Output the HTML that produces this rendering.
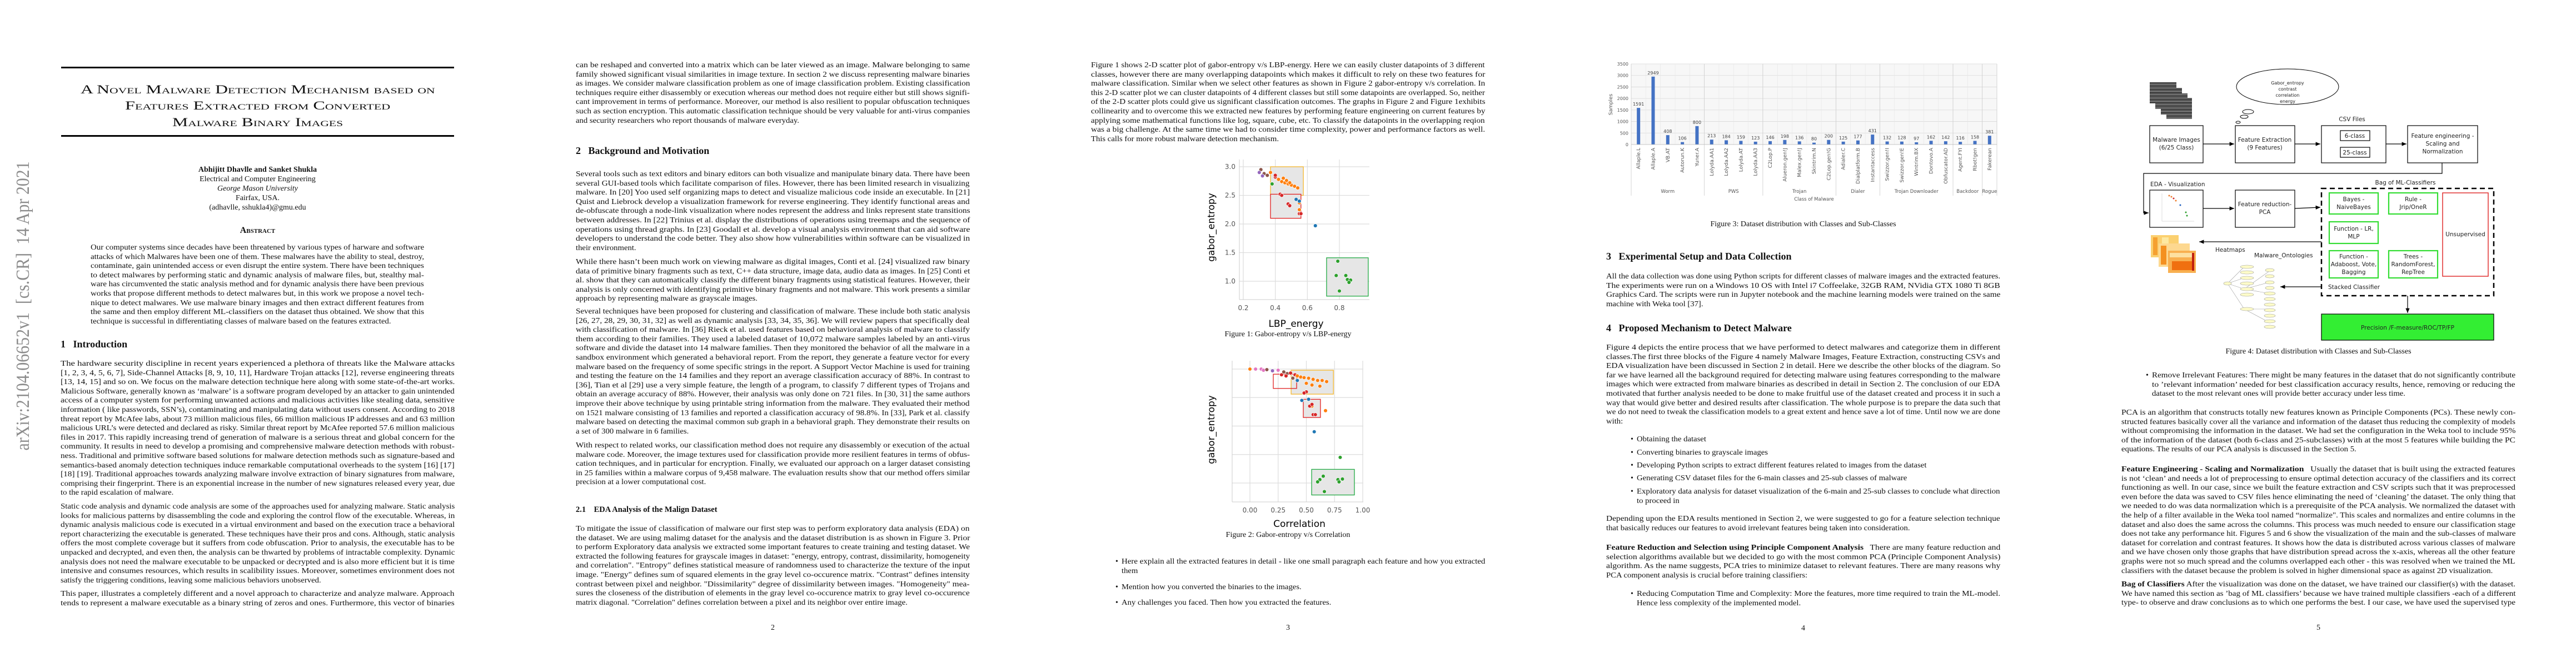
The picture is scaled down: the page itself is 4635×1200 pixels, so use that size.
<!DOCTYPE html>
<html><head><meta charset="utf-8">
<style>
html,body{margin:0;padding:0;background:#fff;}
body{width:4635px;height:1200px;position:relative;overflow:hidden;font-family:"Liberation Serif",serif;color:#111;}
.page{position:absolute;top:0;width:927px;height:1200px;background:#fff;}
.para{position:absolute;font-size:14px;line-height:16.6px;}
.para div{white-space:nowrap;overflow:visible;height:16.6px;}
.j,.e{white-space:nowrap;}
.abs{position:absolute;white-space:nowrap;}
.h1{position:absolute;font-weight:bold;font-size:18px;white-space:nowrap;}
.pn{position:absolute;font-size:14px;width:927px;text-align:center;left:0;}
.bul{position:absolute;font-size:14px;}
svg text{font-family:"DejaVu Sans","Liberation Sans",sans-serif;}
</style></head><body>

<!-- PAGE 1 -->
<div class="page" style="left:0">
  <div class="abs j" style="left:-218px;top:569px;width:520px;font-size:34px;line-height:34px;color:#8c8c8c;transform:rotate(-90deg);text-align:center;">arXiv:2104.06652v1&nbsp;&nbsp;[cs.CR]&nbsp;&nbsp;14 Apr 2021</div>
  <div class="abs" style="left:110px;top:120px;width:707px;height:3px;background:#000"></div>
  <div class="abs" style="left:110px;top:243px;width:707px;height:3px;background:#000"></div>
  <div>
    <div class="abs j" style="left:145px;top:148px;width:637px;font-size:22px;font-variant:small-caps;line-height:26px">A Novel Malware Detection Mechanism based on</div>
    <div class="abs j" style="left:225px;top:177px;width:477px;font-size:22px;font-variant:small-caps;line-height:26px">Features Extracted from Converted</div>
    <div class="abs j" style="left:310px;top:207px;width:307px;font-size:22px;font-variant:small-caps;line-height:26px">Malware Binary Images</div>
  </div>
  <div style="position:absolute;left:0;width:927px;top:297px;text-align:center;font-size:14px;line-height:17px">
    <div style="font-weight:bold">Abhijitt Dhavlle and Sanket Shukla</div>
    <div>Electrical and Computer Engineering</div>
    <div style="font-style:italic">George Mason University</div>
    <div>Fairfax, USA.</div>
    <div>(adhavlle, sshukla4)@gmu.edu</div>
  </div>
  <div class="abs" style="left:0;width:927px;text-align:center;top:406px;font-size:16px;font-weight:bold;font-variant:small-caps">Abstract</div>
  <div class="para" style="left:163px;top:438px;width:600px">
    <div class="j">Our computer systems since decades have been threatened by various types of harware and software</div>
    <div class="j">attacks of which Malwares have been one of them. These malwares have the ability to steal, destroy,</div>
    <div class="j">contaminate, gain unintended access or even disrupt the entire system. There have been techniques</div>
    <div class="j">to detect malwares by performing static and dynamic analysis of malware files, but, stealthy mal-</div>
    <div class="j">ware has circumvented the static analysis method and for dynamic analysis there have been previous</div>
    <div class="j">works that propose different methods to detect malwares but, in this work we propose a novel tech-</div>
    <div class="j">nique to detect malwares. We use malware binary images and then extract different features from</div>
    <div class="j">the same and then employ different ML-classifiers on the dataset thus obtained. We show that this</div>
    <div class="e">technique is successful in differentiating classes of malware based on the features extracted.</div>
  </div>
  <div class="h1" style="left:109px;top:609px">1&nbsp;&nbsp;&nbsp;Introduction</div>
  <div class="para" style="left:109px;top:647px;width:709px">
    <div class="j">The hardware security discipline in recent years experienced a plethora of threats like the Malware attacks</div>
    <div class="j">[1, 2, 3, 4, 5, 6, 7], Side-Channel Attacks [8, 9, 10, 11], Hardware Trojan attacks [12], reverse engineering threats</div>
    <div class="j">[13, 14, 15] and so on. We focus on the malware detection technique here along with some state-of-the-art works.</div>
    <div class="j">Malicious Software, generally known as ‘malware’ is a software program developed by an attacker to gain unintended</div>
    <div class="j">access of a computer system for performing unwanted actions and malicious activities like stealing data, sensitive</div>
    <div class="j">information ( like passwords, SSN’s), contaminating and manipulating data without users consent. According to 2018</div>
    <div class="j">threat report by McAfee labs, about 73 million malicious files, 66 million malicious IP addresses and and 63 million</div>
    <div class="j">malicious URL’s were detected and declared as risky. Similar threat report by McAfee reported 57.6 million malicious</div>
    <div class="j">files in 2017. This rapidly increasing trend of generation of malware is a serious threat and global concern for the</div>
    <div class="j">community. It results in need to develop a promising and comprehensive malware detection methods with robust-</div>
    <div class="j">ness. Traditional and primitive software based solutions for malware detection methods such as signature-based and</div>
    <div class="j">semantics-based anomaly detection techniques induce remarkable computational overheads to the system [16] [17]</div>
    <div class="j">[18] [19]. Traditional approaches towards analyzing malware involve extraction of binary signatures from malware,</div>
    <div class="j">comprising their fingerprint. There is an exponential increase in the number of new signatures released every year, due</div>
    <div class="e">to the rapid escalation of malware.</div>
  </div>
  <div class="para" style="left:109px;top:904px;width:709px">
    <div class="j">Static code analysis and dynamic code analysis are some of the approaches used for analyzing malware. Static analysis</div>
    <div class="j">looks for malicious patterns by disassembling the code and exploring the control flow of the executable. Whereas, in</div>
    <div class="j">dynamic analysis malicious code is executed in a virtual environment and based on the execution trace a behavioral</div>
    <div class="j">report characterizing the executable is generated. These techniques have their pros and cons. Although, static analysis</div>
    <div class="j">offers the most complete coverage but it suffers from code obfuscation. Prior to analysis, the executable has to be</div>
    <div class="j">unpacked and decrypted, and even then, the analysis can be thwarted by problems of intractable complexity. Dynamic</div>
    <div class="j">analysis does not need the malware executable to be unpacked or decrypted and is also more efficient but it is time</div>
    <div class="j">intensive and consumes resources, which results in scalibility issues. Moreover, sometimes environment does not</div>
    <div class="e">satisfy the triggering conditions, leaving some malicious behaviors unobserved.</div>
  </div>
  <div class="para" style="left:109px;top:1061px;width:709px">
    <div class="j">This paper, illustrates a completely different and a novel approach to characterize and analyze malware. Approach</div>
    <div class="j">tends to represent a malware executable as a binary string of zeros and ones. Furthermore, this vector of binaries</div>
  </div>
</div>

<!-- PAGE 2 -->
<div class="page" style="left:927px">
  <div class="para" style="left:109px;top:110px;width:709px">
    <div class="j">can be reshaped and converted into a matrix which can be later viewed as an image. Malware belonging to same</div>
    <div class="j">family showed significant visual similarities in image texture. In section 2 we discuss representing malware binaries</div>
    <div class="j">as images. We consider malware classification problem as one of image classification problem. Existing classification</div>
    <div class="j">techniques require either disassembly or execution whereas our method does not require either but still shows signifi-</div>
    <div class="j">cant improvement in terms of performance. Moreover, our method is also resilient to popular obfuscation techniques</div>
    <div class="j">such as section encryption. This automatic classification technique should be very valuable for anti-virus companies</div>
    <div class="e">and security researchers who report thousands of malware everyday.</div>
  </div>
  <div class="h1" style="left:109px;top:261px">2&nbsp;&nbsp;&nbsp;Background and Motivation</div>
  <div class="para" style="left:109px;top:306px;width:709px">
    <div class="j">Several tools such as text editors and binary editors can both visualize and manipulate binary data. There have been</div>
    <div class="j">several GUI-based tools which facilitate comparison of files. However, there has been limited research in visualizing</div>
    <div class="j">malware. In [20] Yoo used self organizing maps to detect and visualize malicious code inside an executable. In [21]</div>
    <div class="j">Quist and Liebrock develop a visualization framework for reverse engineering. They identify functional areas and</div>
    <div class="j">de-obfuscate through a node-link visualization where nodes represent the address and links represent state transitions</div>
    <div class="j">between addresses. In [22] Trinius et al. display the distributions of operations using treemaps and the sequence of</div>
    <div class="j">operations using thread graphs. In [23] Goodall et al. develop a visual analysis environment that can aid software</div>
    <div class="j">developers to understand the code better. They also show how vulnerabilities within software can be visualized in</div>
    <div class="e">their environment.</div>
  </div>
  <div class="para" style="left:109px;top:464px;width:709px">
    <div class="j">While there hasn’t been much work on viewing malware as digital images, Conti et al. [24] visualized raw binary</div>
    <div class="j">data of primitive binary fragments such as text, C++ data structure, image data, audio data as images. In [25] Conti et</div>
    <div class="j">al. show that they can automatically classify the different binary fragments using statistical features. However, their</div>
    <div class="j">analysis is only concerned with identifying primitive binary fragments and not malware. This work presents a similar</div>
    <div class="e">approach by representing malware as grayscale images.</div>
  </div>
  <div class="para" style="left:109px;top:553px;width:709px">
    <div class="j">Several techniques have been proposed for clustering and classification of malware. These include both static analysis</div>
    <div class="j">[26, 27, 28, 29, 30, 31, 32] as well as dynamic analysis [33, 34, 35, 36]. We will review papers that specifically deal</div>
    <div class="j">with classification of malware. In [36] Rieck et al. used features based on behavioral analysis of malware to classify</div>
    <div class="j">them according to their families. They used a labeled dataset of 10,072 malware samples labeled by an anti-virus</div>
    <div class="j">software and divide the dataset into 14 malware families. Then they monitored the behavior of all the malware in a</div>
    <div class="j">sandbox environment which generated a behavioral report. From the report, they generate a feature vector for every</div>
    <div class="j">malware based on the frequency of some specific strings in the report. A Support Vector Machine is used for training</div>
    <div class="j">and testing the feature on the 14 families and they report an average classification accuracy of 88%. In contrast to</div>
    <div class="j">[36], Tian et al [29] use a very simple feature, the length of a program, to classify 7 different types of Trojans and</div>
    <div class="j">obtain an average accuracy of 88%. However, their analysis was only done on 721 files. In [30, 31] the same authors</div>
    <div class="j">improve their above technique by using printable string information from the malware. They evaluated their method</div>
    <div class="j">on 1521 malware consisting of 13 families and reported a classification accuracy of 98.8%. In [33], Park et al. classify</div>
    <div class="j">malware based on detecting the maximal common sub graph in a behavioral graph. They demonstrate their results on</div>
    <div class="e">a set of 300 malware in 6 families.</div>
  </div>
  <div class="para" style="left:109px;top:794px;width:709px">
    <div class="j">With respect to related works, our classification method does not require any disassembly or execution of the actual</div>
    <div class="j">malware code. Moreover, the image textures used for classification provide more resilient features in terms of obfus-</div>
    <div class="j">cation techniques, and in particular for encryption. Finally, we evaluated our approach on a larger dataset consisting</div>
    <div class="j">in 25 families within a malware corpus of 9,458 malware. The evaluation results show that our method offers similar</div>
    <div class="e">precision at a lower computational cost.</div>
  </div>
  <div class="h1" style="left:109px;top:909px;font-size:14.5px">2.1&nbsp;&nbsp;&nbsp;&nbsp;EDA Analysis of the Malign Dataset</div>
  <div class="para" style="left:109px;top:944px;width:709px">
    <div class="j">To mitigate the issue of classification of malware our first step was to perform exploratory data analysis (EDA) on</div>
    <div class="j">the dataset. We are using malimg dataset for the analysis and the dataset distribution is as shown in Figure 3. Prior</div>
    <div class="j">to perform Exploratory data analysis we extracted some important features to create training and testing dataset. We</div>
    <div class="j">extracted the following features for grayscale images in dataset: "energy, entropy, contrast, dissimilarity, homogeneity</div>
    <div class="j">and correlation". "Entropy" defines statistical measure of randomness used to characterize the texture of the input</div>
    <div class="j">image. "Energy" defines sum of squared elements in the gray level co-occurence matrix. "Contrast" defines intensity</div>
    <div class="j">contrast between pixel and neighbor. "Dissimilarity" degree of dissimilarity between images. "Homogeneity" mea-</div>
    <div class="j">sures the closeness of the distribution of elements in the gray level co-occurence matrix to gray level co-occurence</div>
    <div class="e">matrix diagonal. "Correlation" defines correlation between a pixel and its neighbor over entire image.</div>
  </div>
  <div class="pn" style="top:1122px">2</div>
</div>

<!-- PAGE 3 -->
<div class="page" style="left:1854px">
  <div class="para" style="left:109px;top:110px;width:709px">
    <div class="j">Figure 1 shows 2-D scatter plot of gabor-entropy v/s LBP-energy. Here we can easily cluster datapoints of 3 different</div>
    <div class="j">classes, however there are many overlapping datapoints which makes it difficult to rely on these two features for</div>
    <div class="j">malware classification. Similar when we select other features as shown in Figure 2 gabor-entropy v/s correlation. In</div>
    <div class="j">this 2-D scatter plot we can cluster datapoints of 4 different classes but still some datapoints are overlapped. So, neither</div>
    <div class="j">of the 2-D scatter plots could give us significant classification outcomes. The graphs in Figure 2 and Figure 1exhibits</div>
    <div class="j">collinearity and to overcome this we extracted new features by performing feature engineering on current features by</div>
    <div class="j">applying some mathematical functions like log, square, cube, etc. To classify the datapoints in the overlapping reqion</div>
    <div class="j">was a big challenge. At the same time we had to consider time complexity, power and performance factors as well.</div>
    <div class="e">This calls for more robust malware detection mechanism.</div>
  </div>
  <svg id="scat" width="927" height="1000" style="position:absolute;left:0;top:0" xmlns="http://www.w3.org/2000/svg"></svg>
  <div class="abs" style="left:0;width:927px;text-align:center;top:594px;font-size:14px">Figure 1: Gabor-entropy v/s LBP-energy</div>
  <div class="abs" style="left:0;width:927px;text-align:center;top:955px;font-size:14px">Figure 2: Gabor-entropy v/s Correlation</div>
  <div>
    <div class="bul" style="left:153px;top:1003px">•</div>
    <div class="para" style="left:164px;top:1003px;width:654px"><div class="j">Here explain all the extracted features in detail - like one small paragraph each feature and how you extracted</div><div class="e">them</div></div>
    <div class="bul" style="left:153px;top:1049px">•</div>
    <div class="para" style="left:164px;top:1049px;width:654px"><div class="e">Mention how you converted the binaries to the images.</div></div>
    <div class="bul" style="left:153px;top:1077px">•</div>
    <div class="para" style="left:164px;top:1077px;width:654px"><div class="e">Any challenges you faced. Then how you extracted the features.</div></div>
  </div>
  <div class="pn" style="top:1122px">3</div>
</div>

<!-- PAGE 4 -->
<div class="page" style="left:2781px">
  <svg id="bars" width="927" height="380" style="position:absolute;left:0;top:0" xmlns="http://www.w3.org/2000/svg"></svg>
  <div class="abs" style="left:0;width:927px;text-align:center;top:396px;font-size:14px">Figure 3: Dataset distribution with Classes and Sub-Classes</div>
  <div class="h1" style="left:109px;top:451px">3&nbsp;&nbsp;&nbsp;Experimental Setup and Data Collection</div>
  <div class="para" style="left:109px;top:490px;width:709px">
    <div class="j">All the data collection was done using Python scripts for different classes of malware images and the extracted features.</div>
    <div class="j">The experiments were run on a Windows 10 OS with Intel i7 Coffeelake, 32GB RAM, NVidia GTX 1080 Ti 8GB</div>
    <div class="j">Graphics Card. The scripts were run in Jupyter notebook and the machine learning models were trained on the same</div>
    <div class="e">machine with Weka tool [37].</div>
  </div>
  <div class="h1" style="left:109px;top:580px">4&nbsp;&nbsp;&nbsp;Proposed Mechanism to Detect Malware</div>
  <div class="para" style="left:109px;top:618px;width:709px">
    <div class="j">Figure 4 depicts the entire process that we have performed to detect malwares and categorize them in different</div>
    <div class="j">classes.The first three blocks of the Figure 4 namely Malware Images, Feature Extraction, constructing CSVs and</div>
    <div class="j">EDA visualization have been discussed in Section 2 in detail. Here we describe the other blocks of the diagram. So</div>
    <div class="j">far we have learned all the background required for detecting malware using features corresponding to the malware</div>
    <div class="j">images which were extracted from malware binaries as described in detail in Section 2. The conclusion of our EDA</div>
    <div class="j">motivated that further analysis needed to be done to make fruitful use of the dataset created and process it in such a</div>
    <div class="j">way that would give better and desired results after classification. The whole purpose is to prepare the data such that</div>
    <div class="j">we do not need to tweak the classification models to a great extent and hence save a lot of time. Until now we are done</div>
    <div class="e">with:</div>
  </div>
  <div>
    <div class="bul" style="left:153px;top:783px">•</div><div class="para" style="left:164px;top:783px;width:654px"><div class="e">Obtaining the dataset</div></div>
    <div class="bul" style="left:153px;top:807px">•</div><div class="para" style="left:164px;top:807px;width:654px"><div class="e">Converting binaries to grayscale images</div></div>
    <div class="bul" style="left:153px;top:830px">•</div><div class="para" style="left:164px;top:830px;width:654px"><div class="e">Developing Python scripts to extract different features related to images from the dataset</div></div>
    <div class="bul" style="left:153px;top:853px">•</div><div class="para" style="left:164px;top:853px;width:654px"><div class="e">Generating CSV dataset files for the 6-main classes and 25-sub classes of malware</div></div>
    <div class="bul" style="left:153px;top:877px">•</div><div class="para" style="left:164px;top:877px;width:654px"><div class="j">Exploratory data analysis for dataset visualization of the 6-main and 25-sub classes to conclude what direction</div><div class="e">to proceed in</div></div>
  </div>
  <div class="para" style="left:109px;top:926px;width:709px">
    <div class="j">Depending upon the EDA results mentioned in Section 2, we were suggested to go for a feature selection technique</div>
    <div class="e">that basically reduces our features to avoid irrelevant features being taken into consideration.</div>
  </div>
  <div class="para" style="left:109px;top:978px;width:709px">
    <div class="j"><b>Feature Reduction and Selection using Principle Component Analysis</b>&nbsp;&nbsp; There are many feature reduction and</div>
    <div class="j">selection algorithms available but we decided to go with the most common PCA (Principle Component Analysis)</div>
    <div class="j">algorithm. As the name suggests, PCA tries to minimize dataset to relevant features. There are many reasons why</div>
    <div class="e">PCA component analysis is crucial before training classifiers:</div>
  </div>
  <div class="bul" style="left:153px;top:1061px">•</div>
  <div class="para" style="left:164px;top:1061px;width:654px"><div class="j">Reducing Computation Time and Complexity: More the features, more time required to train the ML-model.</div><div class="e">Hence less complexity of the implemented model.</div></div>
  <div class="pn" style="top:1123px">4</div>
</div>

<!-- PAGE 5 -->
<div class="page" style="left:3708px">
  <svg width="927" height="640" style="position:absolute;left:0;top:0" xmlns="http://www.w3.org/2000/svg" font-size="10.5">
    <defs><marker id="ah" markerWidth="8" markerHeight="8" refX="7" refY="4" orient="auto"><path d="M0,1 L7,4 L0,7 z" fill="#000"/></marker>
    <pattern id="stripes" width="60" height="6" patternUnits="userSpaceOnUse"><rect width="60" height="6" fill="#555"/><rect y="2" width="60" height="1" fill="#888"/><rect y="4" width="60" height="1" fill="#333"/></pattern></defs>
    <g>
      <rect x="160" y="148" width="48" height="38" fill="url(#stripes)"/>
      <rect x="170" y="158" width="48" height="38" fill="url(#stripes)"/>
      <rect x="180" y="168" width="48" height="38" fill="url(#stripes)"/>
      <rect x="190" y="176" width="46" height="38" fill="url(#stripes)"/>
    </g>
    <g fill="#fff" stroke="#000" stroke-width="1">
      <ellipse cx="408" cy="156" rx="92" ry="32"/>
      <ellipse cx="337" cy="201" rx="10" ry="4"/><ellipse cx="330" cy="210" rx="7" ry="3"/><ellipse cx="319" cy="220" rx="4" ry="2"/>
    </g>
    <g font-size="8" text-anchor="middle" fill="#222"><text x="408" y="152">Gabor_entropy</text><text x="408" y="163">contrast</text><text x="408" y="174">correlation</text><text x="408" y="185">energy</text></g>
    <g fill="#fff" stroke="#000" stroke-width="1.2">
      <rect x="160" y="226" width="96" height="67"/>
      <rect x="314" y="226" width="107" height="67"/>
      <rect x="469" y="226" width="116" height="67"/>
      <rect x="624" y="226" width="126" height="67"/>
      <rect x="503" y="235" width="53" height="18"/><rect x="503" y="265" width="53" height="18"/>
      <rect x="160" y="342" width="96" height="67"/>
      <rect x="314" y="342" width="107" height="67"/>
    </g>
    <g text-anchor="middle" fill="#222">
      <text x="208" y="255">Malware Images</text><text x="208" y="269">(6/25 Class)</text>
      <text x="367" y="255">Feature Extraction</text><text x="367" y="269">(9 Features)</text>
      <text x="524" y="218">CSV Files</text><text x="529" y="248">6-class</text><text x="529" y="278">25-class</text>
      <text x="687" y="248">Feature engineering -</text><text x="687" y="262">Scaling and</text><text x="687" y="276">Normalization</text>
      <text x="367" y="371">Feature reduction-</text><text x="367" y="385">PCA</text>
      <text x="620" y="332">Bag of ML-Classifiers</text>
    </g>
    <text x="161" y="335" fill="#222">EDA - Visualization</text>
    <g stroke="#000" stroke-width="1.2" fill="none">
      <line x1="256" y1="259" x2="312" y2="259" marker-end="url(#ah)"/>
      <line x1="421" y1="259" x2="467" y2="259" marker-end="url(#ah)"/>
      <line x1="585" y1="259" x2="622" y2="259" marker-end="url(#ah)"/>
      <polyline points="686,293 686,312 149,312 149,383 158,383" marker-end="url(#ah)"/>
      <line x1="256" y1="375" x2="312" y2="375" marker-end="url(#ah)"/>
      <line x1="421" y1="375" x2="467" y2="373" marker-end="url(#ah)"/>
      <line x1="469" y1="435" x2="249" y2="435" marker-end="url(#ah)"/>
      <line x1="469" y1="516" x2="395" y2="516" marker-end="url(#ah)"/>
      <line x1="624" y1="532" x2="624" y2="563" marker-end="url(#ah)"/>
    </g>
    <rect x="469" y="339" width="310" height="193" fill="none" stroke="#000" stroke-width="2.5" stroke-dasharray="9,6"/>
    <g fill="#fff" stroke="#33dd33" stroke-width="2.2">
      <rect x="483" y="347" width="88" height="38"/>
      <rect x="590" y="347" width="88" height="38"/>
      <rect x="483" y="399" width="88" height="39"/>
      <rect x="483" y="451" width="88" height="49"/>
      <rect x="590" y="451" width="88" height="49"/>
    </g>
    <rect x="687" y="347" width="82" height="150" fill="#fff" stroke="#e03030" stroke-width="1.5"/>
    <g text-anchor="middle" fill="#222">
      <text x="527" y="362">Bayes -</text><text x="527" y="376">NaiveBayes</text>
      <text x="634" y="362">Rule -</text><text x="634" y="376">Jrip/OneR</text>
      <text x="527" y="415">Function - LR,</text><text x="527" y="429">MLP</text>
      <text x="527" y="465">Function -</text><text x="527" y="479">Adaboost, Vote,</text><text x="527" y="493">Bagging</text>
      <text x="634" y="465">Trees -</text><text x="634" y="479">RandomForest,</text><text x="634" y="493">RepTree</text>
      <text x="728" y="425">Unsupervised</text>
    </g>
    <text x="481" y="520" fill="#222">Stacked Classifier</text>
    <text x="278" y="453" fill="#222">Heatmaps</text>
    <text x="348" y="463" fill="#222">Malware_Ontologies</text>
    <rect x="469" y="565" width="310" height="47" fill="#33ee33" stroke="#000" stroke-width="1.2"/>
    <text x="624" y="593" text-anchor="middle" fill="#222">Precision /F-measure/ROC/TP/FP</text>
    <g>
      <circle cx="195" cy="352" r="1.5" fill="#f08030"/><circle cx="199" cy="354" r="1.5" fill="#f08030"/><circle cx="203" cy="357" r="1.5" fill="#d03030"/><circle cx="207" cy="361" r="1.5" fill="#f08030"/><circle cx="215" cy="369" r="1.5" fill="#2060c0"/><circle cx="225" cy="382" r="1.5" fill="#30a030"/><circle cx="227" cy="388" r="1.5" fill="#30a030"/>
      <line x1="182" y1="348" x2="182" y2="398" stroke="#ddd"/><line x1="182" y1="398" x2="240" y2="398" stroke="#ddd"/>
    </g>
    <g>
      <rect x="162" y="423" width="50" height="40" fill="#fbd070"/><rect x="166" y="427" width="8" height="32" fill="#f5a030"/><rect x="182" y="427" width="12" height="32" fill="#fde8a0"/>
      <rect x="176" y="438" width="56" height="42" fill="#fdd890"/><rect x="180" y="442" width="10" height="34" fill="#f49020"/>
      <rect x="193" y="451" width="50" height="40" fill="#f8b050"/><rect x="196" y="455" width="44" height="8" fill="#fde0a0"/><rect x="200" y="470" width="38" height="16" fill="#f07010"/><rect x="236" y="455" width="4" height="32" fill="#c02010"/>
    </g>
    <g stroke="#999" stroke-width="0.6" fill="#fdfbc8">
      <line x1="300" y1="510" x2="330" y2="480"/><line x1="300" y1="510" x2="330" y2="500"/><line x1="300" y1="510" x2="330" y2="520"/><line x1="300" y1="510" x2="330" y2="556"/>
      <line x1="330" y1="520" x2="375" y2="488"/><line x1="330" y1="520" x2="375" y2="508"/><line x1="330" y1="520" x2="375" y2="528"/><line x1="330" y1="556" x2="375" y2="556"/><line x1="330" y1="556" x2="375" y2="580"/>
      <ellipse cx="300" cy="510" rx="7" ry="3"/>
      <ellipse cx="335" cy="480" rx="12" ry="3"/><ellipse cx="335" cy="490" rx="12" ry="3"/><ellipse cx="335" cy="500" rx="12" ry="3"/><ellipse cx="335" cy="510" rx="12" ry="3"/><ellipse cx="335" cy="520" rx="12" ry="3"/><ellipse cx="335" cy="530" rx="12" ry="3"/><ellipse cx="335" cy="556" rx="12" ry="3"/>
      <ellipse cx="376" cy="486" rx="8" ry="3"/><ellipse cx="376" cy="497" rx="8" ry="3"/><ellipse cx="376" cy="508" rx="8" ry="3"/><ellipse cx="376" cy="518" rx="8" ry="3"/><ellipse cx="376" cy="528" rx="10" ry="3"/><ellipse cx="376" cy="538" rx="10" ry="3"/><ellipse cx="376" cy="548" rx="10" ry="3"/><ellipse cx="376" cy="558" rx="10" ry="3"/><ellipse cx="376" cy="568" rx="10" ry="3"/><ellipse cx="376" cy="578" rx="10" ry="3"/><ellipse cx="376" cy="588" rx="10" ry="3"/>
    </g>
  </svg>
  <div class="abs" style="left:0;width:927px;text-align:center;top:625px;font-size:14px">Figure 4: Dataset distribution with Classes and Sub-Classes</div>
  <div class="bul" style="left:153px;top:668px">•</div>
  <div class="para" style="left:164px;top:668px;width:654px">
    <div class="j">Remove Irrelevant Features: There might be many features in the dataset that do not significantly contribute</div>
    <div class="j">to ’relevant information’ needed for best classification accuracy results, hence, removing or reducing the</div>
    <div class="e">dataset to the most relevant ones will provide better accuracy under less time.</div>
  </div>
  <div class="para" style="left:109px;top:735px;width:709px">
    <div class="j">PCA is an algorithm that constructs totally new features known as Principle Components (PCs). These newly con-</div>
    <div class="j">structed features basically cover all the variance and information of the dataset thus reducing the complexity of models</div>
    <div class="j">without compromising the information in the dataset. We had set the configuration in the Weka tool to include 95%</div>
    <div class="j">of the information of the dataset (both 6-class and 25-subclasses) with at the most 5 features while building the PC</div>
    <div class="e">equations. The results of our PCA analysis is discussed in the Section 5.</div>
  </div>
  <div class="para" style="left:109px;top:837px;width:709px">
    <div class="j"><b>Feature Engineering - Scaling and Normalization</b>&nbsp;&nbsp; Usually the dataset that is built using the extracted features</div>
    <div class="j">is not ‘clean’ and needs a lot of preprocessing to ensure optimal detection accuracy of the classifiers and its correct</div>
    <div class="j">functioning as well. In our case, since we built the feature extraction and CSV scripts such that it was preprocessed</div>
    <div class="j">even before the data was saved to CSV files hence eliminating the need of ‘cleaning’ the dataset. The only thing that</div>
    <div class="j">we needed to do was data normalization which is a prerequisite of the PCA analysis. We normalized the dataset with</div>
    <div class="j">the help of a filter available in the Weka tool named “normalize". This scales and normalizes and entire columns in the</div>
    <div class="j">dataset and also does the same across the columns. This process was much needed to ensure our classification stage</div>
    <div class="j">does not take any performance hit. Figures 5 and 6 show the visualization of the main and the sub-classes of malware</div>
    <div class="j">dataset for correlation and contrast features. It shows how the data is distributed across various classes of malware</div>
    <div class="j">and we have chosen only those graphs that have distribution spread across the x-axis, whereas all the other feature</div>
    <div class="j">graphs were not so much spread and the columns overlapped each other - this was resolved when we trained the ML</div>
    <div class="e">classifiers with the dataset because the problem is solved in higher dimensional space as against 2D visualization.</div>
  </div>
  <div class="para" style="left:109px;top:1044px;width:709px">
    <div class="j"><b>Bag of Classifiers</b> After the visualization was done on the dataset, we have trained our classifier(s) with the dataset.</div>
    <div class="j">We have named this section as ’bag of ML classifiers’ because we have trained multiple classifiers -each of a different</div>
    <div class="j">type- to observe and draw conclusions as to which one performs the best. I our case, we have used the supervised type</div>
  </div>
  <div class="pn" style="top:1122px">5</div>
</div>

<script>
// ---------- Figure 3 bar chart data ----------
const barCategories = ["Allaple.L","Allaple.A","VB.AT","Autorun.K","Yuner.A","Lolyda.AA1","Lolyda.AA2","Lolyda.AT","Lolyda.AA3","C2Lop.P","Alueron.gen!J","Malex.gen!J","Skintrim.N","C2Lop.gen!G","Adialer.C","Dialplatform.B","Instantaccess","Swizzor.gen!I","Swizzor.gen!E","Wintrim.BX","Dontovo.A","Obfuscator.AD","Agent.FYI","Rbot!gen","Fakerean"];
const barValues = [1591,2949,408,106,800,213,184,159,123,146,198,136,80,200,125,177,431,132,128,97,162,142,116,158,381];
const groupNames = ["Worm","PWS","Trojan","Dialer","Trojan Downloader","Backdoor","Rogue"];
const groupSizes = [5,4,5,3,5,2,1];
const barTicks = [0,500,1000,1500,2000,2500,3000,3500];

// ---------- Figure 1 scatter data ----------
const f1x = [0.31,0.33,0.35,0.30,0.32,0.37,0.40,0.42,0.44,0.46,0.48,0.50,0.52,0.54,0.45,0.47,0.49,0.55,0.55,0.40,0.43,0.44,0.48,0.49,0.55,0.56,0.53,0.55,0.65,0.79,0.78,0.84,0.85,0.87,0.86,0.80,0.38];
const f1y = [2.95,2.88,2.85,2.90,2.84,2.90,2.82,2.78,2.74,2.72,2.70,2.68,2.66,2.63,2.80,2.76,2.72,2.37,2.25,2.85,2.52,2.50,2.35,2.32,2.18,2.18,2.43,2.40,1.97,1.35,1.10,1.10,1.03,1.02,0.98,0.83,2.70];
const f1c = [5,5,5,4,4,1,3,1,1,1,1,1,1,1,1,1,1,1,1,3,3,3,3,3,3,3,0,0,0,2,2,2,2,2,2,2,2];
const f1xTicks = [0.2,0.4,0.6,0.8];
const f1yTicks = [1.0,1.5,2.0,2.5,3.0];

// ---------- Figure 2 scatter data ----------
const f2x = [0.00,0.05,0.10,0.12,0.15,0.20,0.25,0.30,0.33,0.36,0.40,0.42,0.45,0.48,0.52,0.56,0.60,0.64,0.68,0.50,0.55,0.62,0.28,0.32,0.38,0.46,0.52,0.57,0.42,0.67,0.55,0.53,0.55,0.56,0.58,0.50,0.48,0.80,0.65,0.62,0.60,0.78,0.82,0.79,0.66];
const f2y = [3.00,3.00,3.00,2.98,2.99,2.97,2.98,2.95,2.92,2.93,2.90,2.88,2.86,2.85,2.84,2.82,2.80,2.80,2.78,2.75,2.72,2.70,2.90,2.88,2.84,2.45,2.47,1.90,2.80,2.27,2.35,2.35,2.38,2.20,2.20,2.60,2.58,1.45,1.12,1.06,1.02,1.06,1.07,1.02,0.85];
const f2c = [1,6,6,6,5,4,6,5,5,3,3,1,1,1,1,1,1,1,1,1,1,1,3,3,5,0,0,0,0,1,1,3,3,3,3,3,3,2,2,2,2,2,2,2,2];
const f2xTicks = [0.00,0.25,0.50,0.75,1.00];
const f2yGrid = [1.0,1.5,2.0,2.5,3.0];

const palette = ["#1f77b4","#ff7f0e","#2ca02c","#d62728","#9467bd","#8c564b","#e377c2"];
const NS = "http://www.w3.org/2000/svg";
function mk(parent, tag, attrs, txt){const e=document.createElementNS(NS,tag);for(const k in attrs)e.setAttribute(k,attrs[k]);if(txt!==undefined)e.textContent=txt;parent.appendChild(e);return e;}

// ---- bar chart ----
(function(){
  const svg=document.getElementById('bars');
  const X0=154,X1=812,Y0=260,YT=115,VMAX=3500;
  const bw=(X1-X0)/barCategories.length;
  const yv=v=>Y0-v*(Y0-YT)/VMAX;
  const xc=i=>X0+bw*(i+0.5);
  mk(svg,'rect',{x:X0,y:YT,width:X1-X0,height:Y0-YT,fill:'#f7f7f7'});
  barTicks.forEach(t=>{
    const g=mk(svg,'line',{x1:X0,x2:X1,y1:yv(t),y2:yv(t),stroke:'#d8d8d8','stroke-width':0.8});
    
    
    const lb=mk(svg,'text',{x:X0-5,y:yv(t)+3,'text-anchor':'end','font-size':8,fill:'#555'},String(t));
    
    
  });
  barCategories.forEach((c,i)=>{
    mk(svg,'line',{x1:X0+bw*(i+1),x2:X0+bw*(i+1),y1:YT,y2:Y0,stroke:'#e6e6e6','stroke-width':0.6});
    const b=mk(svg,'rect',{x:xc(i)-3,y:yv(barValues[i]),width:6,height:Y0-yv(barValues[i]),fill:'#4472c4'});
    
    
    const v=mk(svg,'text',{x:xc(i),y:yv(barValues[i])-4,'text-anchor':'middle','font-size':8,fill:'#444'},String(barValues[i]));
    
    
    const t=mk(svg,'text',{x:0,y:0,'text-anchor':'end','font-size':9,fill:'#555',transform:`translate(${xc(i)+3},266) rotate(-90)`},c);
    
    
  });
  let start=0;
  mk(svg,'line',{x1:X0,x2:X0,y1:YT,y2:352,stroke:'#ccc','stroke-width':0.8});
  groupNames.forEach((g,k)=>{
    const end=start+groupSizes[k];
    mk(svg,'line',{x1:X0+bw*end,x2:X0+bw*end,y1:YT,y2:352,stroke:'#ccc','stroke-width':0.8});
    const gl=mk(svg,'text',{x:X0+bw*(start+end)/2,y:347,'text-anchor':'middle','font-size':8.5,fill:'#555'},g);
    
    
    start=end;
  });
  mk(svg,'line',{x1:X0,x2:X1,y1:Y0,y2:Y0,stroke:'#bbb','stroke-width':0.8});
  const xt=mk(svg,'text',{x:(X0+X1)/2,y:361,'text-anchor':'middle','font-size':8.5,fill:'#555'},'Class of Malware');
  
  
  const yt=mk(svg,'text',{x:0,y:0,'text-anchor':'middle','font-size':9,fill:'#555',transform:'translate(120,188) rotate(-90)'},'Samples');
  
  
})();

// ---- scatter plots ----
(function(){
  const svg=document.getElementById('scat');
  // Figure 1
  const fx1=v=>383+(v-0.2)*288.3, fy1=v=>506-(v-1)*103;
  mk(svg,'rect',{x:376,y:287,width:234,height:252,fill:'#fff'});
  f1xTicks.forEach(t=>{
    mk(svg,'line',{x1:fx1(t),x2:fx1(t),y1:287,y2:539,stroke:'#ddd','stroke-width':1.2});
    const l=mk(svg,'text',{x:fx1(t),y:558,'text-anchor':'middle','font-size':12,fill:'#555'},t.toFixed(1));
    
    
  });
  f1yTicks.forEach(t=>{
    mk(svg,'line',{x1:376,x2:610,y1:fy1(t),y2:fy1(t),stroke:'#ddd','stroke-width':1.2});
    const l=mk(svg,'text',{x:369,y:fy1(t)+4,'text-anchor':'end','font-size':12,fill:'#555'},t.toFixed(1));
    
    
  });
  mk(svg,'line',{x1:376,x2:376,y1:287,y2:539,stroke:'#ccc'});
  mk(svg,'line',{x1:376,x2:610,y1:539,y2:539,stroke:'#ccc'});
  const boxes1=[[0.37,0.575,2.5,3.0,'#f5b82e'],[0.37,0.56,2.1,2.52,'#e02020'],[0.72,0.98,0.74,1.41,'#22aa44']];
  boxes1.forEach(b=>{
    const r=mk(svg,'rect',{x:fx1(b[0]),y:fy1(b[3]),width:fx1(b[1])-fx1(b[0]),height:fy1(b[2])-fy1(b[3]),fill:'#e6e6e6',stroke:b[4],'stroke-width':1.3});
    
    
  });
  f1x.forEach((v,i)=>{
    const p=mk(svg,'circle',{cx:fx1(v),cy:fy1(f1y[i]),r:3.4,fill:palette[f1c[i]],stroke:'#fff','stroke-width':0.7});
    
    
  });
  const a1=mk(svg,'text',{x:478,y:588,'text-anchor':'middle','font-size':17},'LBP_energy');
  
  
  const b1=mk(svg,'text',{x:0,y:0,'text-anchor':'middle','font-size':17,transform:'translate(331,409) rotate(-90)'},'gabor_entropy');
  
  

  // Figure 2
  const fx2=v=>395+v*203, fy2=v=>664-(v-3)*102.5;
  mk(svg,'rect',{x:363,y:649,width:236,height:254,fill:'#fff'});
  f2xTicks.forEach(t=>{
    mk(svg,'line',{x1:fx2(t),x2:fx2(t),y1:649,y2:903,stroke:'#ddd','stroke-width':1.2});
    const l=mk(svg,'text',{x:fx2(t),y:922,'text-anchor':'middle','font-size':12,fill:'#555'},t.toFixed(2));
    
    
  });
  f2yGrid.forEach(t=>{
    mk(svg,'line',{x1:363,x2:599,y1:fy2(t),y2:fy2(t),stroke:'#ddd','stroke-width':1.2});
  });
  mk(svg,'line',{x1:363,x2:363,y1:649,y2:903,stroke:'#ccc'});
  mk(svg,'line',{x1:363,x2:599,y1:903,y2:903,stroke:'#ccc'});
  const boxes2=[[0.365,0.74,2.56,2.98,'#f5b82e'],[0.207,0.414,2.66,2.91,'#e02020'],[0.473,0.625,2.15,2.47,'#e02020'],[0.547,0.926,0.79,1.24,'#22aa44']];
  boxes2.forEach(b=>{
    const r=mk(svg,'rect',{x:fx2(b[0]),y:fy2(b[3]),width:fx2(b[1])-fx2(b[0]),height:fy2(b[2])-fy2(b[3]),fill:b[4]==='#e02020'&&b[3]>2.8?'none':'#e6e6e6',stroke:b[4],'stroke-width':1.3});
    
    
  });
  f2x.forEach((v,i)=>{
    const p=mk(svg,'circle',{cx:fx2(v),cy:fy2(f2y[i]),r:3.4,fill:palette[f2c[i]],stroke:'#fff','stroke-width':0.7});
    
    
  });
  const a2=mk(svg,'text',{x:484,y:948,'text-anchor':'middle','font-size':17},'Correlation');
  
  
  const b2=mk(svg,'text',{x:0,y:0,'text-anchor':'middle','font-size':17,transform:'translate(331,773) rotate(-90)'},'gabor_entropy');
  
  
})();

// ---- justify lines by horizontal scaling ----
(function(){
  document.querySelectorAll('.j, .e').forEach(el=>{
    const sp=document.createElement('span');
    sp.style.display='inline-block';
    sp.style.transformOrigin='left center';
    sp.style.whiteSpace='nowrap';
    while(el.firstChild) sp.appendChild(el.firstChild);
    el.appendChild(sp);
  });
  let lastScale=1;
  document.querySelectorAll('.j, .e').forEach(el=>{
    const sp=el.firstChild;
    const w=sp.offsetWidth;
    const target=el.clientWidth;
    if(el.classList.contains('j')){
      if(w>0){
        lastScale=target/w;
        if(el.style.textAlign==='center'){sp.style.transformOrigin='center center';}
        sp.style.transform='scaleX('+lastScale+')';
      }
    } else {
      const s=Math.min(lastScale,1.05);
      sp.style.transform='scaleX('+s+')';
    }
  });
})();
</script>
</body></html>
